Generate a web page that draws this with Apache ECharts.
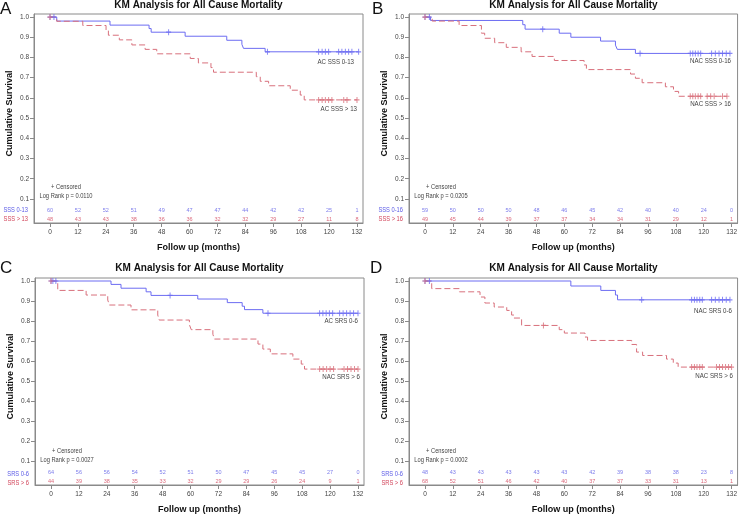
<!DOCTYPE html>
<html><head><meta charset="utf-8">
<script src="https://cdn.jsdelivr.net/npm/echarts@6/dist/echarts.min.js"></script>
<style>html,body{margin:0;padding:0;background:#fff}#c{width:740px;height:515px}</style>
</head><body><div id="c"></div>
<script>
// ---------- shared ticks ----------
const monthTicks = [0, 12, 24, 36, 48, 60, 72, 84, 96, 108, 120, 132];
const survTicks = [0.1, 0.2, 0.3, 0.4, 0.5, 0.6, 0.7, 0.8, 0.9, 1.0];

// ---------- Panel A ----------
const aBlueT = [0, 2.9, 25.8, 42.6, 43.5, 58.1, 76.0, 82.5, 83.2, 92.5];
const aBlueS = [1, 0.980, 0.960, 0.943, 0.925, 0.905, 0.885, 0.865, 0.845, 0.828];
const aBlueCens = [0, 1.7, 51.0, 93.5, 115.5, 117.0, 118.4, 119.8, 124.1, 125.5, 127.0, 128.4, 129.8, 132.7];
const aRedT = [0, 2.9, 14.1, 24.1, 25.1, 29.8, 35.2, 40.9, 45.9, 60.3, 63.8, 69.2, 70.3, 88.7, 90.4, 94.0, 103.3, 107.6, 109.3];
const aRedS = [1, 0.979, 0.958, 0.935, 0.910, 0.887, 0.862, 0.840, 0.818, 0.795, 0.773, 0.750, 0.727, 0.705, 0.682, 0.660, 0.638, 0.614, 0.590];
const aRedCens = [0, 115.5, 117.0, 118.4, 119.8, 121.2, 126.3, 127.7, 132.0];
const aRiskBlue = [60, 52, 52, 51, 49, 47, 47, 44, 42, 42, 25, 1];
const aRiskRed = [48, 43, 43, 38, 36, 36, 32, 32, 29, 27, 11, 8];
const aRowNames = ['SSS 0-13', 'SSS > 13'];
const aCurveNames = ['AC SSS 0-13', 'AC SSS > 13'];
const aLogRank = 'Log Rank p = 0.0110';

// ---------- Panel B ----------
const bBlueT = [0, 2.4, 42.1, 43.1, 57.8, 62.8, 75.6, 82.0, 82.8, 90.6];
const bBlueS = [1, 0.983, 0.962, 0.940, 0.920, 0.900, 0.881, 0.861, 0.840, 0.820];
const bBlueCens = [0, 1.9, 50.7, 92.6, 114.2, 115.3, 116.4, 117.6, 118.7, 123.4, 125.0, 126.6, 128.1, 129.7, 131.3];
const bRedT = [0, 3.1, 14.7, 24.3, 25.7, 30.0, 35.0, 41.4, 46.1, 55.7, 68.5, 69.5, 88.5, 90.6, 93.5, 103.5, 107.0, 109.2];
const bRedS = [1, 0.980, 0.958, 0.920, 0.895, 0.873, 0.850, 0.828, 0.805, 0.785, 0.763, 0.740, 0.718, 0.697, 0.675, 0.655, 0.632, 0.608];
const bRedCens = [0, 114.2, 115.3, 116.4, 117.6, 118.7, 121.5, 123.0, 124.5, 128.1, 130.0];
const bRiskBlue = [59, 50, 50, 50, 48, 46, 45, 42, 40, 40, 24, 0];
const bRiskRed = [49, 45, 44, 39, 37, 37, 34, 34, 31, 29, 12, 1];
const bRowNames = ['SSS 0-16', 'SSS > 16'];
const bCurveNames = ['NAC SSS 0-16', 'NAC SSS > 16'];
const bLogRank = 'Log Rank p = 0.0205';

// ---------- Panel C ----------
const cBlueT = [0, 25.8, 30.1, 40.9, 43.0, 63.1, 75.8, 82.2, 83.2, 91.1];
const cBlueS = [1, 0.983, 0.964, 0.946, 0.928, 0.910, 0.892, 0.874, 0.857, 0.839];
const cBlueCens = [0, 0.8, 2.1, 51.2, 93.3, 115.5, 116.9, 118.3, 119.7, 121.1, 124.1, 125.6, 127.1, 128.6, 130.1, 132.0];
const cRedT = [0, 2.9, 15.1, 24.4, 25.1, 34.4, 45.9, 46.5, 59.5, 60.3, 69.6, 70.3, 89.0, 91.1, 94.3, 104.0, 107.6, 109.0];
const cRedS = [1, 0.953, 0.930, 0.905, 0.880, 0.856, 0.830, 0.805, 0.782, 0.757, 0.734, 0.710, 0.685, 0.660, 0.636, 0.610, 0.585, 0.560];
const cRedCens = [0, 115.5, 117.0, 118.5, 120.0, 121.5, 126.0, 127.5, 129.0, 130.5, 132.0];
const cRiskBlue = [64, 56, 56, 54, 52, 51, 50, 47, 45, 45, 27, 0];
const cRiskRed = [44, 39, 38, 35, 33, 32, 29, 29, 26, 24, 9, 1];
const cRowNames = ['SRS 0-6', 'SRS > 6'];
const cCurveNames = ['AC SRS 0-6', 'NAC SRS > 6'];
const cLogRank = 'Log Rank p = 0.0027';

// ---------- Panel D ----------
const dBlueT = [0, 62.8, 75.7, 82.0, 82.9];
const dBlueS = [1, 0.975, 0.953, 0.930, 0.906];
const dBlueCens = [0, 1.9, 93.3, 114.8, 116.0, 117.1, 118.3, 119.4, 123.4, 125.0, 126.6, 128.1, 129.7, 131.3];
const dRedT = [0, 2.9, 14.8, 23.7, 25.8, 29.8, 35.2, 37.3, 38.3, 41.6, 57.8, 60.0, 68.9, 70.0, 89.0, 91.1, 93.7, 104.0, 106.9, 109.0];
const dRedS = [1, 0.962, 0.946, 0.920, 0.890, 0.870, 0.853, 0.830, 0.815, 0.778, 0.757, 0.740, 0.720, 0.703, 0.683, 0.645, 0.628, 0.610, 0.590, 0.570];
const dRedCens = [0, 51.0, 114.8, 116.0, 117.1, 118.3, 119.4, 125.5, 126.8, 128.1, 129.4, 130.7, 132.0];
const dRiskBlue = [48, 43, 43, 43, 43, 43, 42, 39, 38, 38, 23, 8];
const dRiskRed = [68, 52, 51, 46, 42, 40, 37, 37, 33, 31, 13, 1];
const dRowNames = ['SRS 0-6', 'SRS > 6'];
const dCurveNames = ['NAC SRS 0-6', 'NAC SRS > 6'];
const dLogRank = 'Log Rank p = 0.0002';

const titleText = 'KM Analysis for All Cause Mortality';
const panelLetters = ['A', 'B', 'C', 'D'];

// ---------- layout / style ----------
const BLUE = '#6c6cf2', RED = '#d8707c';
const BLUE_TXT = '#5a5ae6', RED_TXT = '#d2445a';
const SMALL = '"Liberation Sans",Arial,sans-serif';
const BOLD = '"Liberation Sans",Arial,sans-serif';
const XMIN = -6.88, XMAX = 134.58, YMIN = -0.019, YMAX = 1.015;
const ROW1 = 0.045, ROW2 = 0.0;
const FW = 329, FH = 209;
const NARROW = 0.82;

const panels = [
  {ox: 0, oy: 0, lx: 0, ly: 9, blue: [aBlueT, aBlueS, aBlueCens], red: [aRedT, aRedS, aRedCens], risk: [aRiskBlue, aRiskRed], rows: aRowNames, names: aCurveNames, lr: aLogRank, endLab: [[354, 62], [357, 109]]},
  {ox: 375, oy: 0, lx: 372, ly: 9, blue: [bBlueT, bBlueS, bBlueCens], red: [bRedT, bRedS, bRedCens], risk: [bRiskBlue, bRiskRed], rows: bRowNames, names: bCurveNames, lr: bLogRank, endLab: [[356, 61], [356, 104]]},
  {ox: 1, oy: 264, lx: 0, ly: 268, blue: [cBlueT, cBlueS, cBlueCens], red: [cRedT, cRedS, cRedCens], risk: [cRiskBlue, cRiskRed], rows: cRowNames, names: cCurveNames, lr: cLogRank, endLab: [[357, 57], [359, 113]]},
  {ox: 375, oy: 264, lx: 370, ly: 268, blue: [dBlueT, dBlueS, dBlueCens], red: [dRedT, dRedS, dRedCens], risk: [dRiskBlue, dRiskRed], rows: dRowNames, names: dCurveNames, lr: dLogRank, endLab: [[357, 47], [358, 112]]}
];

function survAt(T, S, t) { let v = S[0]; for (let i = 0; i < T.length; i++) if (T[i] <= t) v = S[i]; return v; }
function stepData(T, S, C) {
  const pts = T.map((t, i) => [t, S[i]]);
  const end = Math.max(T[T.length - 1], ...C);
  pts.push([end, S[S.length - 1]]);
  return pts;
}
const PLUS = 'path://M4,0h2v4h4v2h-4v4h-2v-4h-4v-2h4z';

function narrowText(text, x, y, align, fill, size) {
  return {type: 'text', x: x, y: y, scaleX: NARROW, silent: true,
    style: {text: text, x: 0, y: 0, align: align, verticalAlign: 'middle', font: (size || 7) + 'px ' + SMALL, fill: fill}};
}

const grid = [], xAxis = [], yAxis = [], series = [], graphic = [];
panels.forEach((p, i) => {
  const left = 34 + p.ox, top = 14 + p.oy;
  grid.push({left: left, top: top, width: FW, height: FH, show: true, borderColor: '#8a8a8a', borderWidth: 1, containLabel: false});
  xAxis.push({
    type: 'value', gridIndex: i, min: XMIN, max: XMAX,
    axisLine: {show: true, onZero: false, lineStyle: {color: '#8a8a8a'}},
    axisTick: {show: true, customValues: monthTicks, length: 4, lineStyle: {color: '#8a8a8a'}},
    axisLabel: {customValues: monthTicks, fontSize: 6.5, color: '#444', fontFamily: SMALL, margin: 6},
    splitLine: {show: false},
    name: 'Follow up (months)', nameLocation: 'middle', nameGap: 20,
    nameTextStyle: {fontSize: 9, fontWeight: 'bold', color: '#111', fontFamily: BOLD}
  });
  yAxis.push({
    type: 'value', gridIndex: i, min: YMIN, max: YMAX,
    axisLine: {show: true, onZero: false, lineStyle: {color: '#8a8a8a'}},
    axisTick: {show: true, customValues: survTicks, length: 4, lineStyle: {color: '#8a8a8a'}},
    axisLabel: {customValues: survTicks, fontSize: 6.5, color: '#444', fontFamily: SMALL, margin: 5, formatter: v => v.toFixed(1)},
    splitLine: {show: false},
    name: 'Cumulative Survival', nameLocation: 'middle', nameGap: 20,
    nameTextStyle: {fontSize: 9, fontWeight: 'bold', color: '#111', fontFamily: BOLD, padding: [0, 0, 0, 10]}
  });
  const lines = [[p.blue, BLUE, 'solid'], [p.red, RED, [6, 3]]];
  lines.forEach(([d, col, dash]) => {
    series.push({type: 'line', xAxisIndex: i, yAxisIndex: i, step: 'end', symbol: 'none', silent: true,
      data: stepData(d[0], d[1], d[2]), lineStyle: {color: col, width: 1, type: dash}, z: 3});
  });
  lines.forEach(([d, col]) => {
    series.push({type: 'scatter', xAxisIndex: i, yAxisIndex: i, symbol: PLUS, symbolSize: [5, 6], silent: true,
      data: d[2].map(t => [t, survAt(d[0], d[1], t)]), itemStyle: {color: col}, z: 4});
  });
  [[p.risk[0], ROW1, BLUE_TXT], [p.risk[1], ROW2, RED_TXT]].forEach(([arr, yv, col]) => {
    series.push({type: 'scatter', xAxisIndex: i, yAxisIndex: i, symbolSize: 0, silent: true,
      data: monthTicks.map((m, k) => [m, yv, arr[k]]),
      label: {show: true, position: 'inside', formatter: q => String(q.data[2]), fontSize: 5.5, color: col, fontFamily: SMALL}});
  });
  const cx = left + FW / 2;
  graphic.push({type: 'text', silent: true, style: {text: titleText, x: cx, y: (p.oy ? 268.5 : 5.5), align: 'center', verticalAlign: 'middle', font: 'bold 10px ' + BOLD, fill: '#111'}});
  graphic.push({type: 'text', silent: true, style: {text: panelLetters[i], x: p.lx, y: p.ly, align: 'left', verticalAlign: 'middle', font: '17px ' + BOLD, fill: '#111'}});
  graphic.push(narrowText('+ Censored', left + 32, 187 + p.oy, 'center', '#444'));
  graphic.push(narrowText(p.lr, left + 32, 196.5 + p.oy, 'center', '#444'));
  graphic.push(narrowText(p.rows[0], left - 6, 210 + p.oy, 'right', BLUE_TXT));
  graphic.push(narrowText(p.rows[1], left - 6, 219 + p.oy, 'right', RED_TXT));
  p.names.forEach((nm, k) => {
    graphic.push(narrowText(nm, p.endLab[k][0] + p.ox, p.endLab[k][1] + p.oy, 'right', '#444', 7.5));
  });
});

const chart = echarts.init(document.getElementById('c'), null, {renderer: 'canvas'});
chart.setOption({animation: false, backgroundColor: '#fff', grid, xAxis, yAxis, series, graphic});
</script></body></html>
